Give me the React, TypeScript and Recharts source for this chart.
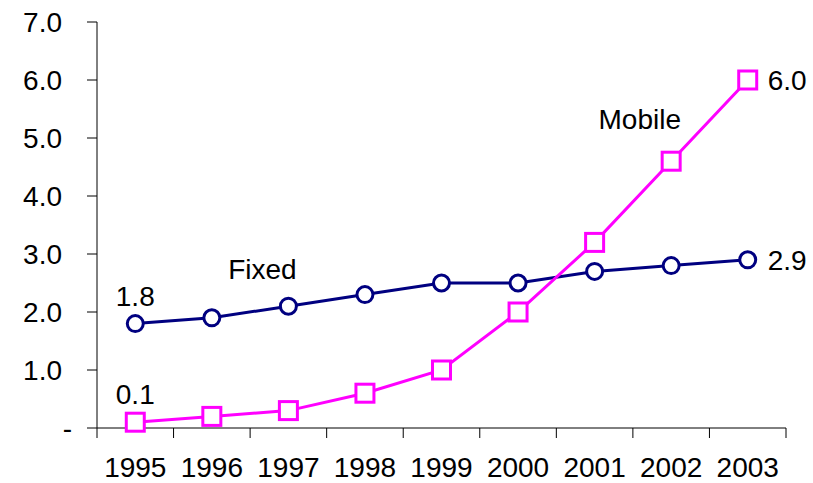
import React from "react";
import { LineChart, Line, XAxis, YAxis, ReferenceDot, Label, LabelList } from "recharts";

const years = ["1995", "1996", "1997", "1998", "1999", "2000", "2001", "2002", "2003"];
const fixedLines = [1.8, 1.9, 2.1, 2.3, 2.5, 2.5, 2.7, 2.8, 2.9];
const mobileLines = [0.1, 0.2, 0.3, 0.6, 1.0, 2.0, 3.2, 4.6, 6.0];
const yTicks = [0, 1, 2, 3, 4, 5, 6, 7];

const NAVY = "#000080";
const MAGENTA = "#FF00FF";
const FONT = "'Liberation Sans', Arial, sans-serif";
const FS = 28;

// x sits in the middle of each year band so tick marks fall between years
const data = years.map((year, i) => ({
  x: i + 0.5,
  year,
  fixed: fixedLines[i],
  mobile: mobileLines[i],
}));
const boundaryTicks = years.map((_, i) => i).concat(years.length);
const centerTicks = years.map((_, i) => i + 0.5);

const CircleDot = (props: any) => {
  const { cx, cy } = props;
  if (cx == null || cy == null) return null;
  return <circle cx={cx} cy={cy} r={8} fill="#fff" stroke={NAVY} strokeWidth={3} />;
};

const SquareDot = (props: any) => {
  const { cx, cy } = props;
  if (cx == null || cy == null) return null;
  return <rect x={cx - 9} y={cy - 9} width={18} height={18} fill="#fff" stroke={MAGENTA} strokeWidth={3} />;
};

const endLabel = (props: any) => {
  const { x, y, value, index } = props;
  if (index === 0) {
    return (
      <text x={x} y={y - 28} textAnchor="middle" dy="0.355em" fontSize={FS} fontFamily={FONT} fill="#000">
        {value.toFixed(1)}
      </text>
    );
  }
  if (index === years.length - 1) {
    return (
      <text x={x + 20} y={y} textAnchor="start" dy="0.355em" fontSize={FS} fontFamily={FONT} fill="#000">
        {value.toFixed(1)}
      </text>
    );
  }
  return null;
};

const YTick = (props: any) => {
  const { x, y, payload } = props;
  const v = payload.value;
  return (
    <text x={v === 0 ? x + 10 : x} y={y} dy="0.355em" textAnchor="end" fontSize={FS} fontFamily={FONT} fill="#000">
      {v === 0 ? "-" : v.toFixed(1)}
    </text>
  );
};

export default function App() {
  return (
    <div style={{ position: "absolute", left: 0, top: 0, background: "#fff" }}>
      <LineChart width={813} height={483} data={data} margin={{ top: 22, right: 27, left: 0, bottom: 0 }}>
        <XAxis
          xAxisId="main"
          type="number"
          dataKey="x"
          domain={[0, 9]}
          ticks={boundaryTicks}
          tickFormatter={() => ""}
          tickSize={10}
          height={10}
          stroke="#000"
          tickLine={{ stroke: "#000" }}
        />
        <XAxis
          xAxisId="yr"
          type="number"
          dataKey="x"
          domain={[0, 9]}
          ticks={centerTicks}
          tickFormatter={(v: number) => years[Math.floor(v)]}
          axisLine={false}
          tickLine={false}
          tickSize={0}
          tickMargin={19}
          height={45}
          interval={0}
          tick={{ fill: "#000", fontSize: FS, fontFamily: FONT }}
        />
        <YAxis
          type="number"
          domain={[0, 7]}
          ticks={yTicks}
          width={97}
          tickSize={10}
          tickMargin={25}
          stroke="#000"
          interval={0}
          tick={<YTick />}
        />
        <Line
          xAxisId="main"
          dataKey="fixed"
          stroke={NAVY}
          strokeWidth={3}
          dot={<CircleDot />}
          activeDot={false}
          isAnimationActive={false}
        >
          <LabelList dataKey="fixed" content={endLabel} />
        </Line>
        <Line
          xAxisId="main"
          dataKey="mobile"
          stroke={MAGENTA}
          strokeWidth={3}
          dot={<SquareDot />}
          activeDot={false}
          isAnimationActive={false}
        >
          <LabelList dataKey="mobile" content={endLabel} />
        </Line>
        <ReferenceDot xAxisId="main" x={2.16} y={2.74} r={0} fill="none" stroke="none">
          <Label value="Fixed" position="center" fontSize={FS} fontFamily={FONT} fill="#000" />
        </ReferenceDot>
        <ReferenceDot xAxisId="main" x={7.09} y={5.33} r={0} fill="none" stroke="none">
          <Label value="Mobile" position="center" fontSize={FS} fontFamily={FONT} fill="#000" />
        </ReferenceDot>
      </LineChart>
    </div>
  );
}
